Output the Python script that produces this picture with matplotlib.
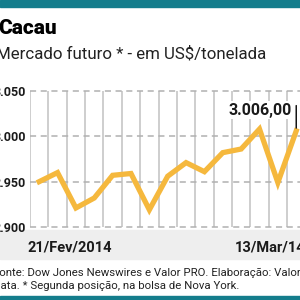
import matplotlib
matplotlib.use("Agg")
import matplotlib.pyplot as plt
from matplotlib.patches import Rectangle
import numpy as np

plt.rcParams['font.family'] = ['Roboto', 'DejaVu Sans']

# Data (US$/tonelada), 21/Fev/2014 .. 13/Mar/14
prices = [2950, 2960, 2921, 2932, 2957, 2959, 2919, 2956, 2971, 2961, 2982, 2986, 3008, 2949, 3006]
x_labels = ["21/Fev/2014", "13/Mar/14"]
y_ticks = [2900, 2950, 3000, 3050]
y_ticklabels = ["2.900", "2.950", "3.000", "3.050"]
last_label = "3.006,00"

teal = "#147d8c"
orange = "#f5b83d"

fig = plt.figure(figsize=(3, 3), dpi=100)
fig.patch.set_facecolor("white")

# top and bottom teal bars
fig.add_artist(Rectangle((0, 1 - 7/300), 1, 7/300, transform=fig.transFigure, color=teal, zorder=0))
fig.add_artist(Rectangle((0, 0), 1, 4/300, transform=fig.transFigure, color=teal, zorder=0))
# gray band for x labels
fig.add_artist(Rectangle((0, 1 - 259/300), 1, 29/300, transform=fig.transFigure, color="#eeeeee", zorder=0))

ax = fig.add_axes([30/300, 1 - 227/300, 275.4/300, 136/300])
n = len(prices)
xs = np.arange(n)
ax.set_xlim(-0.5, n - 0.5)
ax.set_ylim(2900, 3050)
ax.set_facecolor("white")

for b in np.arange(-0.5, n, 1.0):
    ax.axvline(b, color="#cacaca", lw=1.3, zorder=1)
for t in y_ticks:
    ax.axhline(t, color="#b0b0b0", lw=1.1, ls=(0, (4, 3)), zorder=1, clip_on=False)

ax.plot(xs, prices, color=orange, lw=3.8, solid_joinstyle="miter", zorder=3)

for s in ax.spines.values():
    s.set_visible(False)
ax.set_xticks([])
ax.set_yticks(y_ticks)
ax.set_yticklabels(y_ticklabels, fontsize=9, fontweight="bold", color="#1a1a1a")
ax.tick_params(axis="y", length=0, pad=3)

# annotation on last point
ax.annotate("", xy=(xs[-1], prices[-1]), xytext=(xs[-1], 3037),
            arrowprops=dict(arrowstyle="-", color="black", lw=1.0), zorder=4)
ax.text(xs[-1] - 0.25, 3029, last_label, ha="right", va="center", fontsize=11.5,
        fontweight="bold", color="#1a1a1a", zorder=5,
        bbox=dict(facecolor="white", edgecolor="none", pad=1.0))

# titles
fig.text(-2/300, 1 - 28/300, "Cacau", fontsize=15, fontweight="heavy", color="black", va="center", ha="left")
fig.text(-4/300, 1 - 54/300, "Mercado futuro * - em US$/tonelada", fontsize=12.2,
         color="#222222", va="center", ha="left")

# x labels
fig.text(70/300, 1 - 247/300, x_labels[0], fontsize=10.5, fontweight="bold", color="#1a1a1a", ha="center", va="center")
fig.text(235/300, 1 - 247/300, x_labels[1], fontsize=10.5, fontweight="bold", color="#1a1a1a", ha="left", va="center")

# footnote
fig.text(-7/300, 1 - 273/300, "Fonte: Dow Jones Newswires e Valor PRO. Elaboração: Valor", fontsize=8.2,
         color="#222222", ha="left", va="center")
fig.text(-7/300, 1 - 286/300, "Data. * Segunda posição, na bolsa de Nova York.", fontsize=8.2,
         color="#222222", ha="left", va="center")

fig.savefig("out.png", dpi=100)
